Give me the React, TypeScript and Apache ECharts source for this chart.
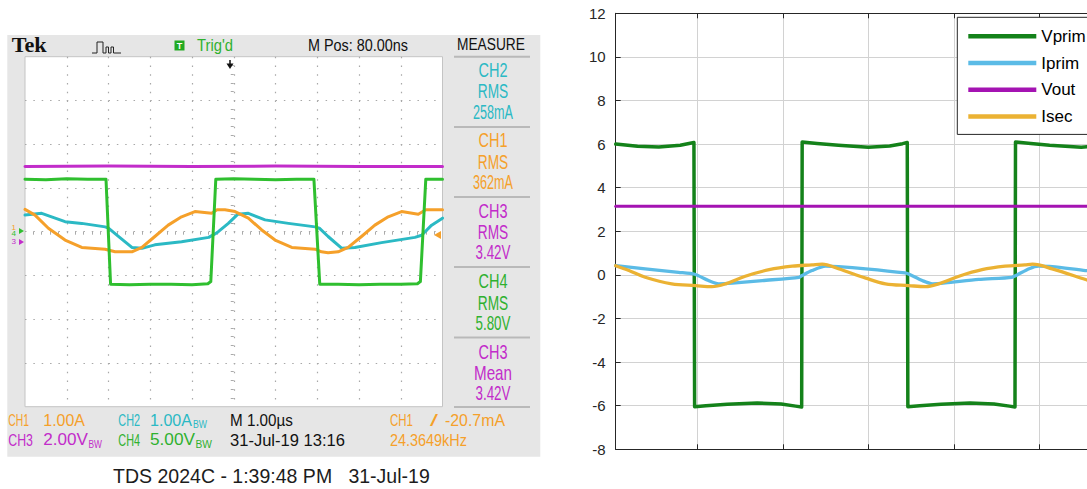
import React, { useEffect, useRef } from 'react';
import * as echarts from 'echarts';

// ---------------- Left: oscilloscope screen (x, y in divisions from screen centre) ----------------
const scopeCh3Vout: number[][] = [[-5, 1.49], [-3, 1.5], [-1, 1.49], [1, 1.5], [3, 1.49], [5, 1.49]];
const scopeCh4Vprim: number[][] = [
  [-5, 1.2], [-4.5, 1.19], [-4, 1.21], [-3.5, 1.2], [-3.06, 1.2], [-2.95, -1.2], [-2.5, -1.21], [-2, -1.2],
  [-1.5, -1.2], [-1, -1.21], [-0.62, -1.19], [-0.55, -1.14], [-0.43, 1.2], [0, 1.21], [0.5, 1.2], [1, 1.19],
  [1.5, 1.2], [1.92, 1.2], [2.06, -1.2], [2.5, -1.2], [3, -1.21], [3.5, -1.2], [4, -1.2], [4.4, -1.19],
  [4.47, -1.14], [4.6, 1.2], [5, 1.2],
];
const scopeCh2Iprim: number[][] = [
  [-5, 0.38], [-4.6, 0.42], [-4.04, 0.23], [-3.64, 0.19], [-3.08, 0.11], [-3.0, 0.08], [-2.77, -0.1],
  [-2.44, -0.36], [-2.2, -0.38], [-1.89, -0.3], [-1.25, -0.23], [-0.6, -0.13], [-0.45, -0.05], [-0.37, 0.0],
  [-0.13, 0.19], [0.1, 0.4], [0.35, 0.42], [0.75, 0.27], [1.31, 0.19], [1.95, 0.11], [2.05, 0.08],
  [2.26, -0.11], [2.59, -0.38], [2.9, -0.36], [3.54, -0.25], [4.34, -0.13], [4.5, -0.08], [4.74, 0.15], [5, 0.31],
];
const scopeCh1Isec: number[][] = [
  [-5, 0.51], [-4.76, 0.38], [-4.44, 0.08], [-4.04, -0.19], [-3.64, -0.36], [-3.08, -0.4], [-2.84, -0.46],
  [-2.44, -0.46], [-2.2, -0.36], [-1.89, -0.11], [-1.57, 0.15], [-1.25, 0.34], [-0.93, 0.46], [-0.53, 0.42],
  [-0.4, 0.5], [-0.21, 0.5], [0.03, 0.46], [0.35, 0.31], [0.67, 0.04], [0.99, -0.19], [1.39, -0.36],
  [1.95, -0.4], [2.1, -0.46], [2.26, -0.48], [2.5, -0.46], [2.74, -0.36], [3.06, -0.11], [3.38, 0.15],
  [3.7, 0.34], [4.02, 0.46], [4.42, 0.4], [4.6, 0.5], [4.78, 0.5], [5, 0.5],
];
const measureBlocks: string[][] = [
  ['CH2', 'RMS', '258mA'],
  ['CH1', 'RMS', '362mA'],
  ['CH3', 'RMS', '3.42V'],
  ['CH4', 'RMS', '5.80V'],
  ['CH3', 'Mean', '3.42V'],
];

// ---------------- Right: simulated waveforms ----------------
const xGridTicks = [1, 2, 3, 4, 5, 6];
const yMin = -8;
const yMax = 12;
const yStep = 2;
const legendNames = ['Vprim', 'Iprim', 'Vout', 'Isec'];
const vprim: number[][] = [
  [0.045, 6.0], [0.3, 5.9], [0.55, 5.87], [0.8, 5.95], [0.96, 6.07], [0.968, -6.05], [1.1, -6.0], [1.35, -5.93],
  [1.7, -5.88], [1.98, -5.92], [2.15, -6.02], [2.22, -6.06], [2.226, 6.1], [2.4, 6.03], [2.65, 5.95],
  [3.0, 5.86], [3.25, 5.91], [3.4, 6.02], [3.455, 6.07], [3.462, -6.05], [3.6, -6.0], [3.85, -5.93],
  [4.19, -5.88], [4.47, -5.92], [4.65, -6.02], [4.715, -6.06], [4.721, 6.1], [4.9, 6.03], [5.12, 5.95],
  [5.49, 5.86], [5.74, 5.91], [5.9, 6.02], [6.0, 6.05],
];
const iprim: number[][] = [
  [0.045, 0.43], [0.39, 0.28], [0.78, 0.12], [0.97, 0.03], [1.13, -0.26], [1.25, -0.41], [1.41, -0.38],
  [1.76, -0.26], [2.19, -0.11], [2.225, -0.03], [2.34, 0.2], [2.5, 0.4], [2.65, 0.38], [2.97, 0.28],
  [3.43, 0.09], [3.47, 0.04], [3.63, -0.26], [3.75, -0.41], [3.9, -0.37], [4.29, -0.21], [4.68, -0.11],
  [4.74, 0.0], [4.88, 0.28], [4.99, 0.4], [5.15, 0.38], [5.54, 0.2], [6.0, 0.02],
];
const vout: number[][] = [[0.045, 3.15], [6.0, 3.15]];
const isec: number[][] = [
  [0.045, 0.42], [0.2, 0.2], [0.39, -0.11], [0.7, -0.41], [0.98, -0.49], [1.17, -0.54], [1.33, -0.41],
  [1.56, -0.06], [1.84, 0.24], [2.11, 0.4], [2.34, 0.46], [2.46, 0.49], [2.65, 0.28], [2.97, -0.15],
  [3.2, -0.41], [3.47, -0.49], [3.67, -0.54], [3.82, -0.41], [4.06, -0.06], [4.33, 0.24], [4.6, 0.4],
  [4.83, 0.46], [4.92, 0.49], [5.15, 0.28], [5.54, -0.21], [5.7, -0.41], [6.0, -0.49],
];

const X_MIN = 0.045;
const X_MAX = 6;

const SANS = "'Liberation Sans', Arial, Helvetica, sans-serif";
const SERIF = "'Liberation Serif', 'Times New Roman', serif";

const C_OR = '#f5a02a';
const C_CY = '#2bb9c4';
const C_MG = '#c22cca';
const C_GR = '#2fbf2f';
const C_TXT_GR = '#2fb12f';

export default function App() {
  const ref = useRef<HTMLDivElement>(null);

  useEffect(() => {
    if (!ref.current) return;
    const chart = echarts.init(ref.current, undefined, { renderer: 'svg' });
    const ctx = document.createElement('canvas').getContext('2d') as CanvasRenderingContext2D;

    const txt = (t: string, x0: number, x1: number, y: number, size: number, color: string, bold = false, serif = false) => {
      const family = serif ? SERIF : SANS;
      const weight = bold ? 'bold' : 'normal';
      ctx.font = `${weight} ${size}px ${family}`;
      const w = ctx.measureText(t).width || 1;
      return {
        type: 'text', x: x0, y, scaleX: (x1 - x0) / w, z: 10, silent: true,
        style: { text: t, fill: color, fontSize: size, fontFamily: family, fontWeight: weight, align: 'left', verticalAlign: 'middle' },
      };
    };
    const txtC = (t: string, cx: number, width: number, y: number, size: number, color: string) =>
      txt(t, cx - width / 2, cx + width / 2, y, size, color);

    const measureColors = [C_CY, C_OR, C_MG, C_TXT_GR, C_MG];
    const measureWidths = (t: string) =>
      t === 'RMS' ? 30.5 : t === 'Mean' ? 38 : t.startsWith('CH') ? 29 : t.endsWith('mA') ? 40 : 35;

    const graphics: any[] = [
      { type: 'rect', z: -10, silent: true, shape: { x: 7.3, y: 35, width: 533, height: 421.7 }, style: { fill: '#e6e6e6' } },
      { type: 'rect', z: -9, silent: true, shape: { x: 25, y: 56.7, width: 417.5, height: 350 }, style: { fill: '#ffffff' } },
      txt('Tek', 11.7, 46.7, 45.5, 21, '#111111', true, true),
      {
        type: 'polyline', z: 10, silent: true,
        shape: { points: [[92, 53], [97, 53], [97, 42], [103, 42], [103, 53], [106, 53], [106, 47], [108.5, 47], [108.5, 53], [111, 53], [111, 47], [113.5, 47], [113.5, 53], [121, 53]] },
        style: { stroke: '#222', lineWidth: 1, fill: null },
      },
      { type: 'rect', z: 10, silent: true, shape: { x: 174.5, y: 40.5, width: 10, height: 10 }, style: { fill: '#22aa22' } },
      {
        type: 'text', x: 179.5, y: 45.7, z: 11, silent: true,
        style: { text: 'T', fill: '#fff', fontSize: 9, fontWeight: 'bold', fontFamily: SANS, align: 'center', verticalAlign: 'middle' },
      },
      txt("Trig'd", 197, 233, 45, 16, C_TXT_GR),
      txt('M Pos: 80.00ns', 308, 408, 45, 16, '#111111'),
      txt('MEASURE', 457, 525, 45, 16, '#111111'),
      { type: 'line', z: 10, silent: true, shape: { x1: 230, y1: 60, x2: 230, y2: 65 }, style: { stroke: '#111', lineWidth: 1.5 } },
      { type: 'polygon', z: 10, silent: true, shape: { points: [[226.5, 63.5], [233.5, 63.5], [230, 69]] }, style: { fill: '#111' } },
      // left channel markers
      txt('1', 11.5, 16, 228, 8, C_OR),
      txt('4', 11.5, 16, 234, 8, C_GR),
      txt('3', 11.5, 16, 242, 8, C_MG),
      { type: 'polygon', z: 10, silent: true, shape: { points: [[19, 228], [19, 234], [24, 231]] }, style: { fill: C_GR } },
      { type: 'polygon', z: 10, silent: true, shape: { points: [[19, 239], [19, 245], [24, 242]] }, style: { fill: C_MG } },
      { type: 'polygon', z: 10, silent: true, shape: { points: [[434, 235], [441, 231], [441, 239]] }, style: { fill: C_OR } },
      // bottom status rows
      txt('CH1', 8.3, 29, 420, 17, C_OR),
      txt('1.00A', 43.3, 85, 420, 17, C_OR),
      txt('CH2', 118.3, 140, 420, 17, C_CY),
      txt('1.00A', 150, 192, 420, 17, C_CY),
      txt('BW', 193, 207, 424, 11, C_CY),
      txt('M 1.00µs', 230, 293, 420, 17, '#111111'),
      txt('CH1', 390, 413, 420, 17, C_OR),
      txt('/', 430, 438, 420, 17, C_OR),
      txt('-20.7mA', 445, 505, 420, 17, C_OR),
      txt('CH3', 8.3, 33, 440, 17, C_MG),
      txt('2.00V', 43.3, 88, 440, 17, C_MG),
      txt('BW', 88.5, 102, 444, 11, C_MG),
      txt('CH4', 118.3, 140, 440, 17, C_TXT_GR),
      txt('5.00V', 150, 195, 440, 17, C_TXT_GR),
      txt('BW', 195.5, 212, 444, 11, C_TXT_GR),
      txt('31-Jul-19 13:16', 230, 345, 440, 17, '#111111'),
      txt('24.3649kHz', 390, 467, 440, 17, C_OR),
      txt('TDS 2024C - 1:39:48 PM   31-Jul-19', 113, 430, 476, 21, '#1c1c1c'),
    ];
    [56.7, 127, 197, 267, 337.5, 407].forEach((y) => {
      graphics.push({ type: 'line', z: 9, silent: true, shape: { x1: 454, y1: y, x2: 530, y2: y }, style: { stroke: '#b9b9b9', lineWidth: 2 } });
    });
    measureBlocks.forEach((blk, i) => {
      const y0 = 70 + 70.5 * i;
      blk.forEach((t, j) => {
        graphics.push(txtC(t, 493, measureWidths(t), y0 + [0, 21.5, 42][j], 20, measureColors[i]));
      });
    });

    const scopeLine = (name: string, data: number[][], color: string, width: number) => ({
      name, type: 'line', xAxisIndex: 0, yAxisIndex: 0, data, symbol: 'none', showSymbol: false, silent: true,
      lineStyle: { color, width, join: 'round', cap: 'round' }, itemStyle: { color }, z: 3,
    });
    const plotLine = (name: string, data: number[][], color: string, width: number, smooth: number | boolean) => ({
      name, type: 'line', xAxisIndex: 1, yAxisIndex: 1, data, symbol: 'none', showSymbol: false, silent: true,
      smooth, lineStyle: { color, width, join: 'round', cap: 'round' }, itemStyle: { color }, color,
    });

    const axisDark = '#262626';

    chart.setOption({
      animation: false,
      backgroundColor: '#ffffff',
      graphic: { elements: graphics },
      grid: [
        { left: 25, top: 56.7, width: 417.5, height: 350, show: true, backgroundColor: 'transparent', borderColor: '#c4c4c4', borderWidth: 1, outerBoundsMode: 'none', containLabel: false },
        { left: 615.7, top: 13.3, width: (X_MAX - X_MIN) * 85.5, height: 436, show: false, outerBoundsMode: 'none', containLabel: false },
      ],
      xAxis: [
        {
          gridIndex: 0, type: 'value', min: -5, max: 5, interval: 1,
          axisLine: { show: false, onZero: true }, axisTick: { show: false },
          minorTick: { show: true, splitNumber: 5, length: 3, lineStyle: { color: '#aaaaaa' } },
          axisLabel: { show: false },
          splitLine: { show: true, showMinLine: false, showMaxLine: false, lineStyle: { color: '#a8a8a8', width: 1.2, type: [1.5, 7.25] } },
        },
        {
          gridIndex: 1, type: 'value', min: X_MIN, max: X_MAX, position: 'bottom',
          axisLine: { show: true, onZero: false, lineStyle: { color: axisDark, width: 1 } },
          axisTick: { show: true, inside: true, length: 5, customValues: xGridTicks, lineStyle: { color: axisDark } },
          axisLabel: { show: false, customValues: xGridTicks },
          splitLine: { show: true, lineStyle: { color: '#d2d2d2', width: 1 } },
        },
        {
          gridIndex: 1, type: 'value', min: X_MIN, max: X_MAX, position: 'top',
          axisLine: { show: true, onZero: false, lineStyle: { color: axisDark, width: 1 } },
          axisTick: { show: true, inside: true, length: 5, customValues: xGridTicks, lineStyle: { color: axisDark } },
          axisLabel: { show: false, customValues: xGridTicks },
          splitLine: { show: false },
        },
      ],
      yAxis: [
        {
          gridIndex: 0, type: 'value', min: -4, max: 4, interval: 1,
          axisLine: { show: false, onZero: true }, axisTick: { show: false },
          minorTick: { show: true, splitNumber: 5, length: 3, lineStyle: { color: '#aaaaaa' } },
          axisLabel: { show: false },
          splitLine: { show: true, showMinLine: false, showMaxLine: false, lineStyle: { color: '#a8a8a8', width: 1.2, type: [1.5, 6.85] } },
        },
        {
          gridIndex: 1, type: 'value', min: yMin, max: yMax, interval: yStep,
          axisLine: { show: true, onZero: false, lineStyle: { color: axisDark, width: 1 } },
          axisTick: { show: true, inside: true, length: 5, lineStyle: { color: axisDark } },
          axisLabel: { show: true, fontSize: 15, color: axisDark, fontFamily: SANS, margin: 10 },
          splitLine: { show: true, lineStyle: { color: '#d2d2d2', width: 1 } },
        },
      ],
      legend: {
        data: legendNames, orient: 'vertical', left: 957.3, top: 17.3, padding: [9, 20, 8, 11],
        itemWidth: 68, itemHeight: 4.5, itemGap: 6.7, icon: 'rect', selectedMode: false,
        backgroundColor: '#ffffff', borderColor: axisDark, borderWidth: 1, borderRadius: 0,
        textStyle: { fontSize: 17, color: '#000', fontFamily: SANS, lineHeight: 20 },
      },
      series: [
        scopeLine('CH3', scopeCh3Vout, C_MG, 3),
        scopeLine('CH2', scopeCh2Iprim, C_CY, 3),
        scopeLine('CH1', scopeCh1Isec, C_OR, 3),
        scopeLine('CH4', scopeCh4Vprim, C_GR, 3),
        plotLine('Vprim', vprim, '#14821a', 3.5, false),
        plotLine('Iprim', iprim, '#5bbbe6', 3.3, 0.25),
        plotLine('Vout', vout, '#a413b2', 3, false),
        plotLine('Isec', isec, '#ebb233', 3.3, 0.35),
      ],
    });

    return () => chart.dispose();
  }, []);

  return (
    <div style={{ position: 'fixed', left: 0, top: 0, width: 1087, height: 489, overflow: 'hidden', background: '#fff' }}>
      <div ref={ref} style={{ width: 1130, height: 489 }} />
    </div>
  );
}
